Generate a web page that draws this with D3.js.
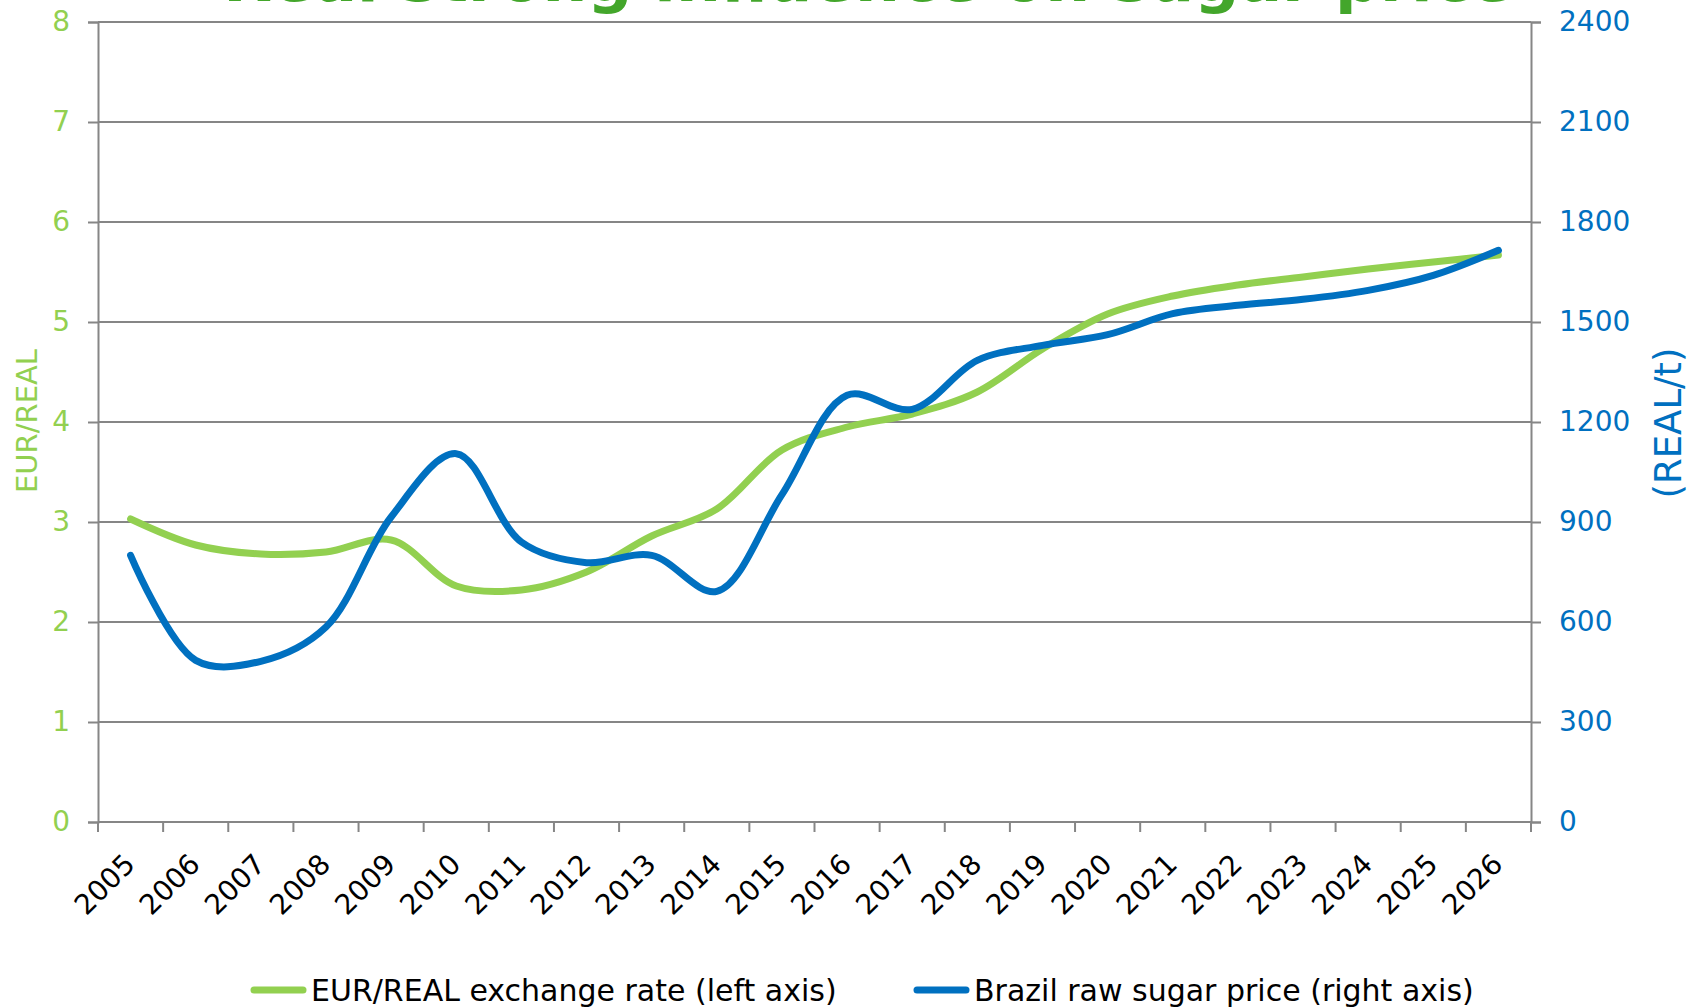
<!DOCTYPE html>
<html>
<head>
<meta charset="utf-8">
<script src="https://cdn.jsdelivr.net/npm/d3@7"></script>
<style>
  body { margin: 0; background: #fff; }
  svg { display: block; font-family: "DejaVu Sans", Verdana, sans-serif; }
  .grid line { stroke: #868686; stroke-width: 2; }
  .axis path, .axis line { stroke: #868686; stroke-width: 2; }
  .line-path { fill: none; stroke-width: 7; stroke-linecap: round; stroke-linejoin: round; }
</style>
</head>
<body>
<svg width="1700" height="1007"></svg>
<script>
// data
const years = ['2005','2006','2007','2008','2009','2010','2011','2012','2013','2014','2015',
  '2016','2017','2018','2019','2020','2021','2022','2023','2024','2025','2026'];
const eurReal = [3.03, 2.77, 2.68, 2.70, 2.82, 2.36, 2.32, 2.50, 2.86, 3.13, 3.72,
  3.95, 4.08, 4.30, 4.73, 5.08, 5.26, 5.37, 5.45, 5.53, 5.60, 5.67];
const sugarPrice = [800, 485, 482, 585, 915, 1105, 840, 778, 800, 692, 982,
  1280, 1238, 1385, 1430, 1462, 1525, 1550, 1568, 1595, 1640, 1715];
const leftTicks = [0, 1, 2, 3, 4, 5, 6, 7, 8];
const rightTicks = [0, 300, 600, 900, 1200, 1500, 1800, 2100, 2400];

const title = 'Real strong influence on sugar price';
const leftLabel = 'EUR/REAL';
const rightLabel = '(REAL/t)';
const seriesNames = ['EUR/REAL exchange rate (left axis)', 'Brazil raw sugar price (right axis)'];

const green = '#92D050';
const blue = '#0070C0';

const svg = d3.select('svg');
const margin = {top: 22, right: 169, bottom: 185, left: 98};
const width = +svg.attr('width');
const height = +svg.attr('height');
const innerWidth = width - margin.left - margin.right;
const innerHeight = height - margin.top - margin.bottom;

const xScale = d3.scaleBand().domain(years).range([0, innerWidth]);
const xPos = d => xScale(d) + xScale.bandwidth() / 2;
const yLeft = d3.scaleLinear().domain([0, 8]).range([innerHeight, 0]);
const yRight = d3.scaleLinear().domain([0, 2400]).range([innerHeight, 0]);

const g = svg.append('g')
  .attr('transform', `translate(${margin.left},${margin.top})`);

// gridlines
g.append('g').attr('class', 'grid')
  .selectAll('line').data(leftTicks).join('line')
    .attr('x1', 0).attr('x2', innerWidth)
    .attr('y1', d => yLeft(d)).attr('y2', d => yLeft(d));

// left axis
const yAxisL = g.append('g').attr('class', 'axis')
  .call(d3.axisLeft(yLeft).tickValues(leftTicks).tickSize(10).tickPadding(18));
yAxisL.selectAll('text')
  .attr('fill', green).attr('font-size', 28).attr('font-family', '"DejaVu Sans"');

// right axis
const yAxisR = g.append('g').attr('class', 'axis')
  .attr('transform', `translate(${innerWidth},0)`)
  .call(d3.axisRight(yRight).tickValues(rightTicks).tickFormat(d3.format('d'))
    .tickSize(10).tickPadding(18));
yAxisR.selectAll('text')
  .attr('fill', blue).attr('font-size', 28).attr('font-family', '"DejaVu Sans"');

// x axis, ticks at category boundaries
const xAxisG = g.append('g').attr('class', 'axis')
  .attr('transform', `translate(0,${innerHeight})`);
xAxisG.append('line')
  .attr('x1', 0).attr('x2', innerWidth);
xAxisG.selectAll('.tick-b').data(years.concat(['end'])).join('line')
  .attr('class', 'tick-b')
  .attr('x1', (d, i) => i * xScale.bandwidth())
  .attr('x2', (d, i) => i * xScale.bandwidth())
  .attr('y1', 0).attr('y2', 10);
xAxisG.selectAll('text').data(years).join('text')
  .attr('transform', d => `translate(${xPos(d) + 6},44) rotate(-45)`)
  .attr('text-anchor', 'end')
  .attr('font-size', 28)
  .attr('fill', '#000')
  .text(d => d);

// axis titles
svg.append('text')
  .attr('transform', `translate(37,421) rotate(-90)`)
  .attr('text-anchor', 'middle')
  .attr('font-size', 29)
  .attr('fill', green)
  .text(leftLabel);

svg.append('text')
  .attr('transform', `translate(1681,423) rotate(-90)`)
  .attr('text-anchor', 'middle')
  .attr('font-size', 37)
  .attr('fill', blue)
  .text(rightLabel);

// lines
const lineLeft = d3.line()
  .x((d, i) => xPos(years[i]))
  .y(d => yLeft(d))
  .curve(d3.curveCatmullRom);
const lineRight = d3.line()
  .x((d, i) => xPos(years[i]))
  .y(d => yRight(d))
  .curve(d3.curveCatmullRom);

g.append('path')
  .attr('class', 'line-path')
  .attr('stroke', green)
  .attr('d', lineLeft(eurReal));

g.append('path')
  .attr('class', 'line-path')
  .attr('stroke', blue)
  .attr('d', lineRight(sugarPrice));

// title, cut off by the top edge
svg.append('text')
  .attr('x', 868)
  .attr('y', 1)
  .attr('text-anchor', 'middle')
  .attr('font-size', 63)
  .attr('font-weight', 'bold')
  .attr('fill', '#43A62B')
  .text(title);

// legend
const legend = svg.append('g');
const legendItems = [
  {name: seriesNames[0], color: green, x: 251},
  {name: seriesNames[1], color: blue, x: 914}
];
legendItems.forEach(it => {
  legend.append('line')
    .attr('x1', it.x + 3).attr('x2', it.x + 52)
    .attr('y1', 990).attr('y2', 990)
    .attr('stroke', it.color).attr('stroke-width', 7).attr('stroke-linecap', 'round');
  legend.append('text')
    .attr('x', it.x + 60).attr('y', 1001)
    .attr('font-size', 30)
    .attr('fill', '#000')
    .text(it.name);
});
</script>
</body>
</html>
